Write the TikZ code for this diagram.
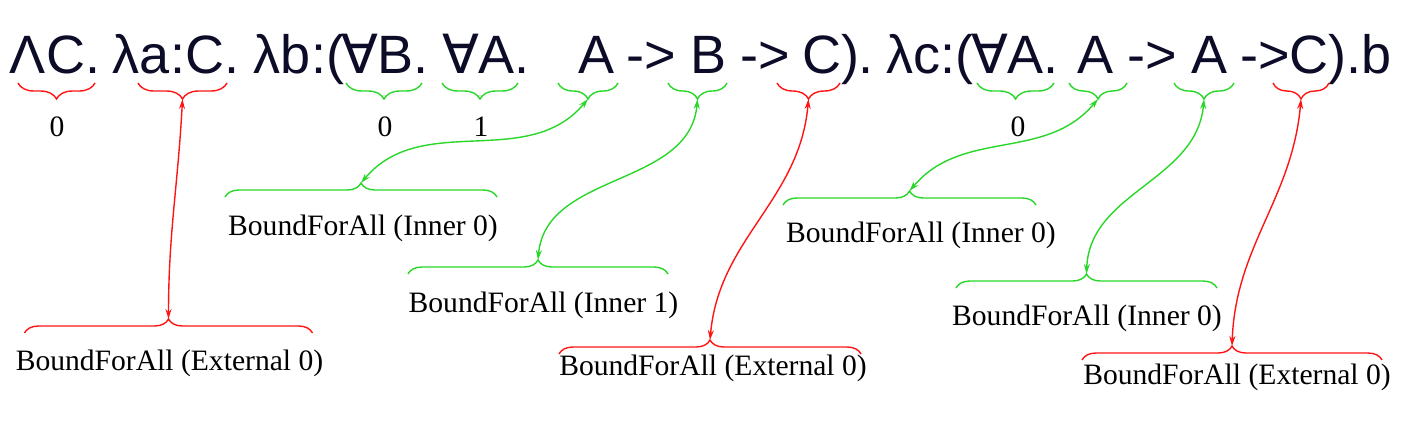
\documentclass[tikz,border=0pt]{standalone}
\usepackage{fontspec}
\setmainfont{Liberation Serif}
\newfontfamily\termfont{Liberation Sans}
\newfontfamily\forallfont{DejaVu Sans}
\usetikzlibrary{decorations.pathreplacing,arrows.meta}
\definecolor{termInk}{RGB}{12,12,40}
\definecolor{boundRed}{RGB}{255,20,20}
\definecolor{boundGreen}{RGB}{40,215,40}
\newcommand{\fa}{{\forallfont ∀}}

\tikzset{
  tok/.style={font=\termfont\fontsize{27}{30}\selectfont, text=termInk, inner sep=0pt, anchor=base},
  lbl/.style={font=\fontsize{14.8}{17}\selectfont, inner sep=0pt},
  upbrace/.style={decorate, decoration={brace, mirror, amplitude=8pt}, line width=0.7pt},
  lowbrace/.style={decorate, decoration={brace, amplitude=7pt}, line width=0.7pt},
  link/.style={line width=0.7pt, {Stealth[length=5pt,width=3pt]}-{Stealth[length=5pt,width=3pt]}},
}

\begin{document}
\begin{tikzpicture}[x=0.5pt,y=0.5pt]
\useasboundingbox (0,0) rectangle (1406,-430);

% the term
\foreach \x/\t in {55/ΛC., 176/λa:C., 299/λb:(, 385/\fa B., 486/\fa A., 596/A, 651/->, 708/B,
                   765/->, 838/C)., 930/λc:(, 1015/\fa A., 1095/A, 1152/->, 1209/A, 1316/->C).b}
  \node[tok] (w\x) at (\x,-73) {\t};

% braces under the term
\draw[upbrace, boundRed]   (18,-83) -- (95,-83);
\draw[upbrace, boundRed]   (138,-83) -- (227,-83);
\draw[upbrace, boundGreen] (346,-83) -- (422,-83);
\draw[upbrace, boundGreen] (442,-83) -- (518,-83);
\draw[upbrace, boundGreen] (558,-83) -- (618,-83);
\draw[upbrace, boundGreen] (668,-83) -- (727,-83);
\draw[upbrace, boundRed]   (777,-83) -- (840,-83);
\draw[upbrace, boundGreen] (977,-83) -- (1054,-83);
\draw[upbrace, boundGreen] (1069,-83) -- (1127,-83);
\draw[upbrace, boundGreen] (1174,-83) -- (1234,-83);
\draw[upbrace, boundRed]   (1273,-83) -- (1329,-83);

\coordinate (tA) at (182.5,-99);
\coordinate (tB) at (588,-99);
\coordinate (tC) at (697.5,-99);
\coordinate (tD) at (808.5,-99);
\coordinate (tE) at (1098,-99);
\coordinate (tF) at (1204,-99);
\coordinate (tG) at (1301,-99);

% indices
\node[lbl] (n1) at (57,-127) {0};
\node[lbl] (n2) at (385,-127) {0};
\node[lbl] (n3) at (481,-127) {1};
\node[lbl] (n4) at (1018,-127) {0};

% labels with their braces
\draw[lowbrace, boundRed] (24.5,-333) -- (312.5,-333);
\coordinate (bA) at (168.5,-319);
\node[lbl] (ext1) at (169.5,-363) {BoundForAll (External 0)};

\draw[lowbrace, boundGreen] (225,-197) -- (497,-197);
\coordinate (bB) at (361,-183);
\node[lbl] (inn1) at (363,-228) {BoundForAll (Inner 0)};

\draw[lowbrace, boundGreen] (408,-274) -- (668,-274);
\coordinate (bC) at (538,-260);
\node[lbl] (inn2) at (543.5,-305) {BoundForAll (Inner 1)};

\draw[lowbrace, boundRed] (559,-354) -- (861,-354);
\coordinate (bD) at (710,-340);
\node[lbl] (ext2) at (713,-368) {BoundForAll (External 0)};

\draw[lowbrace, boundGreen] (783,-205) -- (1036,-205);
\coordinate (bE) at (909.5,-191);
\node[lbl] (inn3) at (921,-235) {BoundForAll (Inner 0)};

\draw[lowbrace, boundGreen] (956,-288) -- (1217,-288);
\coordinate (bF) at (1086.5,-274);
\node[lbl] (inn4) at (1087,-318) {BoundForAll (Inner 0)};

\draw[lowbrace, boundRed] (1082,-360) -- (1382,-360);
\coordinate (bG) at (1232,-346);
\node[lbl] (ext3) at (1237,-377) {BoundForAll (External 0)};

% links
\draw[link, boundRed]   (tA) to[out=-93,in=90] (bA);
\draw[link, boundGreen] (tB) to[out=-130,in=50] (bB);
\draw[link, boundGreen] (tC) to[out=-95,in=85] (bC);
\draw[link, boundRed]   (tD) to[out=-95,in=85] (bD);
\draw[link, boundGreen] (tE) to[out=-130,in=50] (bE);
\draw[link, boundGreen] (tF) to[out=-95,in=88] (bF);
\draw[link, boundRed]   (tG) to[out=-95,in=88] (bG);
\end{tikzpicture}
\end{document}
